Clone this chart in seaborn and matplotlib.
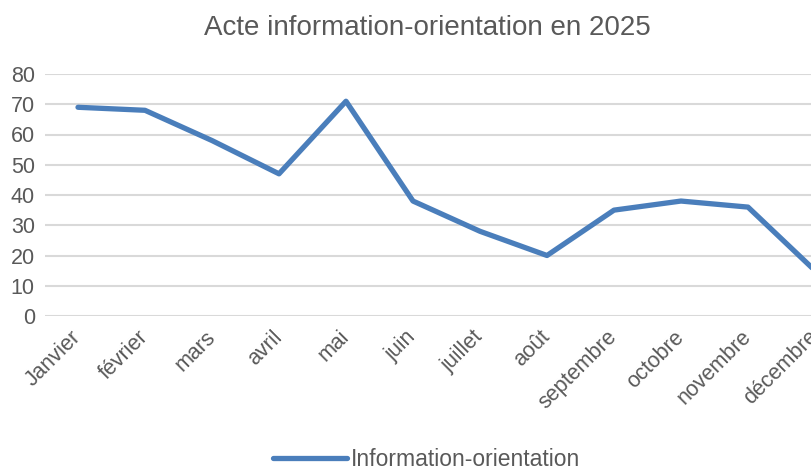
import matplotlib
matplotlib.use("Agg")
import matplotlib.pyplot as plt
import pandas as pd
import seaborn as sns

mois = ['Janvier', 'février', 'mars', 'avril', 'mai', 'juin', 'juillet',
        'août', 'septembre', 'octobre', 'novembre', 'décembre']
valeurs = [69, 68, 58, 47, 71, 38, 28, 20, 35, 38, 36, 15]
serie = 'Information-orientation'
titre = 'Acte information-orientation en 2025'
y_ticks = [0, 10, 20, 30, 40, 50, 60, 70, 80]

df = pd.DataFrame({'mois': mois, 'valeur': valeurs, 'serie': serie})

sns.set_style('white')
plt.rcParams['font.family'] = ['Liberation Sans', 'DejaVu Sans']
grey = '#595959'

fig = plt.figure(figsize=(8.11, 4.70), dpi=100)
# plot area runs past the right edge, as in the cropped original
ax = fig.add_axes([44.5 / 811, 154 / 470, 804 / 811, 242 / 470])

sns.lineplot(data=df, x='mois', y='valeur', hue='serie', palette=['#4a7ebb'],
             linewidth=3.8, sort=False, ax=ax, legend=True)

ax.set_xlim(-0.5, 11.5)
ax.set_ylim(0, 80)
ax.set_yticks(y_ticks)
ax.yaxis.grid(True, color='#d9d9d9', linewidth=1.5)
ax.set_axisbelow(True)
for s in ax.spines.values():
    s.set_visible(False)
ax.tick_params(axis='both', length=0, labelsize=15.5, colors=grey)
ax.tick_params(axis='y', pad=7)
ax.tick_params(axis='x', pad=13)
plt.setp(ax.get_xticklabels(), rotation=45, ha='right', va='center',
         rotation_mode='anchor')
ax.set_xlabel('')
ax.set_ylabel('')

fig.text(427 / 811, 1 - 28 / 470, titre, ha='center', va='center',
         fontsize=20, color=grey)

handles, labels = ax.get_legend_handles_labels()
ax.legend_.remove()
leg = fig.legend(handles, labels, loc='center', bbox_to_anchor=(427 / 811, 1 - 460 / 470),
                 frameon=False, fontsize=16.5, handlelength=3.2, handletextpad=0.2)
for t in leg.get_texts():
    t.set_color(grey)

fig.savefig('out.png', dpi=100)
